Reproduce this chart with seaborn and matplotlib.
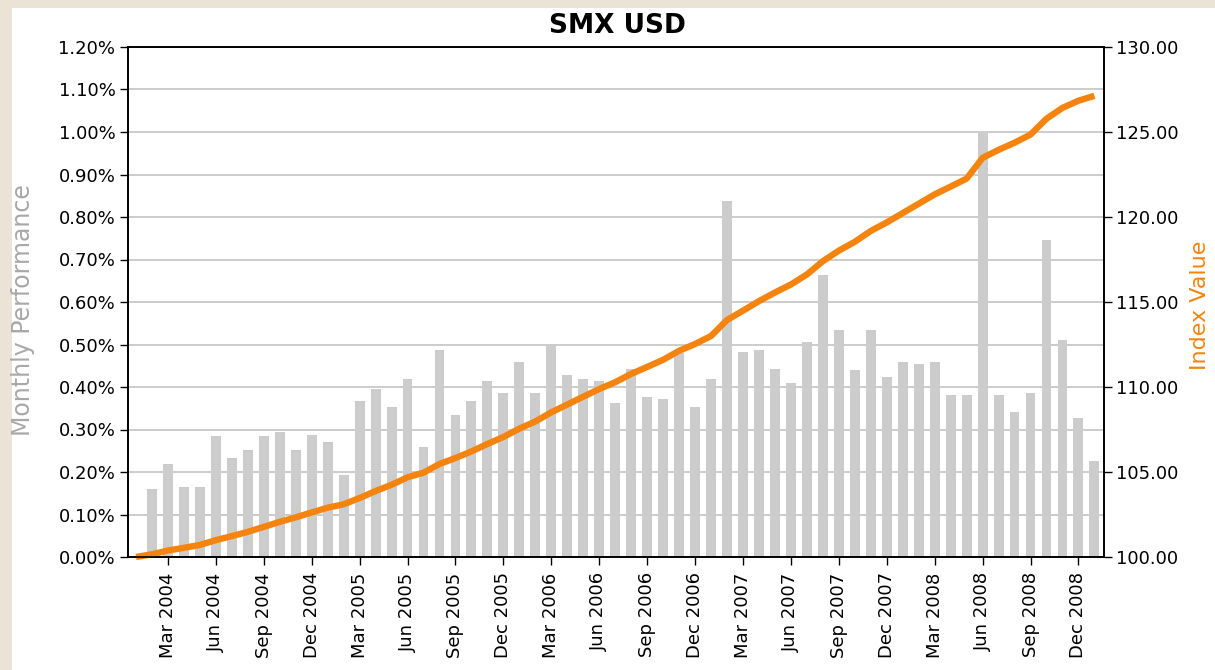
import numpy as np
import matplotlib
matplotlib.use("Agg")
import matplotlib.pyplot as plt
from matplotlib.patches import Rectangle
import seaborn as sns

# ------------------------------
# Data
# ------------------------------
# monthly performance in %, Feb 2004 .. Jan 2009
monthly_perf = [
    0.160, 0.218, 0.164, 0.164, 0.284, 0.232, 0.251, 0.284, 0.293, 0.251, 0.288,          # 2004
    0.270, 0.193, 0.366, 0.396, 0.352, 0.419, 0.260, 0.487, 0.333, 0.366, 0.414, 0.386,   # 2005
    0.458, 0.386, 0.500, 0.429, 0.419, 0.413, 0.362, 0.443, 0.376, 0.371, 0.480, 0.352,   # 2006
    0.419, 0.837, 0.482, 0.487, 0.443, 0.410, 0.506, 0.664, 0.535, 0.439, 0.535, 0.424,   # 2007
    0.458, 0.453, 0.458, 0.381, 0.381, 0.998, 0.381, 0.342, 0.385, 0.746, 0.511, 0.328,   # 2008
    0.227,                                                                                # 2009
]

# index value, Jan 2004 .. Jan 2009
index_values = [
    100.00,
    100.16, 100.38, 100.54, 100.71, 100.99, 101.23, 101.48, 101.77, 102.07, 102.33, 102.62,
    102.90, 103.10, 103.47, 103.88, 104.25, 104.69, 104.96, 105.47, 105.82, 106.21, 106.65, 107.06,
    107.55, 107.97, 108.51, 108.97, 109.43, 109.88, 110.28, 110.77, 111.18, 111.60, 112.13, 112.53,
    113.00, 113.94, 114.49, 115.05, 115.56, 116.03, 116.62, 117.40, 118.02, 118.54, 119.18, 119.68,
    120.23, 120.78, 121.33, 121.79, 122.26, 123.48, 123.95, 124.37, 124.85, 125.78, 126.42, 126.84,
    127.13,
]

tick_labels = [
    "Mar 2004", "Jun 2004", "Sep 2004", "Dec 2004",
    "Mar 2005", "Jun 2005", "Sep 2005", "Dec 2005",
    "Mar 2006", "Jun 2006", "Sep 2006", "Dec 2006",
    "Mar 2007", "Jun 2007", "Sep 2007", "Dec 2007",
    "Mar 2008", "Jun 2008", "Sep 2008", "Dec 2008",
]

# month positions: 0 = Jan 2004
line_x = np.arange(len(index_values))
bar_x = line_x[1:]
tick_pos = np.arange(2, 60, 3)

BAR_COLOR = "#cccccc"
LINE_COLOR = "#f5840f"

# ------------------------------
# Figure
# ------------------------------
W, H = 1215, 670
fig = plt.figure(figsize=(W / 100, H / 100), dpi=100)
fig.patch.set_facecolor("#ebe4d6")
fig.add_artist(Rectangle((12 / W, 0), 1, 1 - 8 / H, transform=fig.transFigure,
                         facecolor="white", edgecolor="none", zorder=-1))

ax = fig.add_axes([128 / W, 1 - 557 / H, (1104 - 128) / W, (557 - 47) / H])
ax.set_facecolor("white")

sns.barplot(x=bar_x, y=monthly_perf, native_scale=True, color=BAR_COLOR,
            saturation=1, width=0.62, errorbar=None, ax=ax, zorder=2)

ax.set_xlim(-0.5, 60.6)
ax.set_ylim(0, 1.2)
yt = np.round(np.arange(0, 1.21, 0.1), 2)
ax.set_yticks(yt)
ax.set_yticklabels([f"{v:.2f}%" for v in yt])
ax.set_xticks(tick_pos)
ax.set_xticklabels(tick_labels, rotation=90)
ax.set_xlabel("")
ax.set_ylabel("")
ax.yaxis.grid(True, color="#c8c8c8", linewidth=1.3)
ax.set_axisbelow(True)
ax.tick_params(axis="y", direction="out", length=6, width=1, labelsize=13, pad=3)
ax.tick_params(axis="x", direction="out", length=6, width=1, labelsize=13, pad=5)

ax2 = ax.twinx()
sns.lineplot(x=line_x, y=index_values, color=LINE_COLOR, linewidth=4.6,
             ax=ax2, clip_on=False, solid_capstyle="butt")
ax2.set_ylim(100, 130)
rt = np.arange(100, 131, 5)
ax2.set_yticks(rt)
ax2.set_yticklabels([f"{v:.2f}" for v in rt])
ax2.set_ylabel("")
ax2.tick_params(axis="y", direction="out", length=6, width=1, labelsize=13, pad=3)

for a in (ax, ax2):
    for s in a.spines.values():
        s.set_color("black")
        s.set_linewidth(1.2)

fig.text(617 / W, 1 - 26 / H, "SMX USD", ha="center", va="center",
         fontsize=19, fontweight="bold")
fig.text(11 / W, 1 - 310 / H, "Monthly Performance", rotation=90,
         ha="left", va="center", fontsize=17, color="#a8a8a8")
fig.text(1190 / W, 1 - 305 / H, "Index Value", rotation=90,
         ha="left", va="center", fontsize=16, color=LINE_COLOR)

fig.savefig("out.png", dpi=100, facecolor=fig.get_facecolor())
